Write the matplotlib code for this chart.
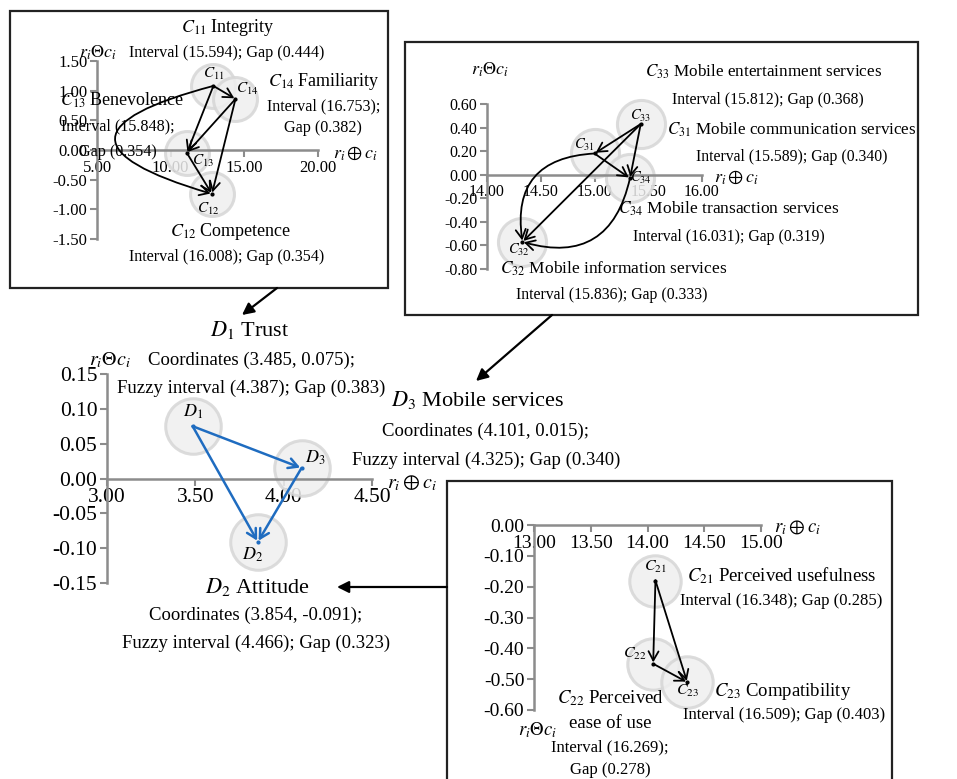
import matplotlib
matplotlib.use('Agg')
import matplotlib.pyplot as plt
from matplotlib.patches import FancyArrowPatch, Rectangle

plt.rcParams['font.family'] = ['Liberation Serif', 'DejaVu Serif']
plt.rcParams['mathtext.fontset'] = 'stix'
plt.rcParams['axes.unicode_minus'] = False

W, H = 957, 779

# ---- data ----
# D: dimensions (coordinates given in the figure)
d_names = ['D1', 'D2', 'D3']
d_x = [3.485, 3.854, 4.101]
d_y = [0.075, -0.091, 0.015]
d_edges = [('D1', 'D3', 0), ('D1', 'D2', 0), ('D3', 'D2', 0)]

# C1x: trust criteria
c1_names = ['C11', 'C12', 'C13', 'C14']
c1_x = [12.9, 12.8, 11.1, 14.4]
c1_y = [1.08, -0.74, -0.05, 0.86]
c1_edges = [('C11', 'C14', 0), ('C11', 'C13', 0), ('C11', 'C12', 1.8),
            ('C14', 'C13', 0), ('C14', 'C12', 0), ('C13', 'C12', 0)]

# C2x: attitude criteria
c2_names = ['C21', 'C22', 'C23']
c2_x = [14.07, 14.05, 14.35]
c2_y = [-0.18, -0.45, -0.51]
c2_edges = [('C21', 'C22', 0), ('C21', 'C23', 0), ('C22', 'C23', 0)]

# C3x: mobile services criteria
c3_names = ['C31', 'C32', 'C33', 'C34']
c3_x = [15.0, 14.33, 15.43, 15.33]
c3_y = [0.18, -0.57, 0.43, -0.03]
c3_edges = [('C33', 'C31', 0), ('C33', 'C32', 0), ('C33', 'C34', 0),
            ('C31', 'C34', 0), ('C31', 'C32', 0.55), ('C34', 'C32', -0.53)]

fig = plt.figure(figsize=(W / 100, H / 100), dpi=100)


def fpos(x, y):
    return x / W, 1 - y / H


def txt(x, y, s, size, **kw):
    fig.text(x / W, 1 - y / H, s, ha='center', va='center', fontsize=size, **kw)


def sub(name):
    return '$%s_{%s}$' % (name[0], name[1:])


def panel(box, names, xs, ys, edges, xlim, ylim, xticks, yticks,
          circ, lbl_off, lbl_size, tick_size, color='black', lw=1.3):
    x0, y0, x1, y1 = box
    ax = fig.add_axes([x0 / W, 1 - y1 / H, (x1 - x0) / W, (y1 - y0) / H])
    ax.patch.set_visible(False)
    ax.set_xlim(xlim)
    ax.set_ylim(ylim)
    ax.spines['top'].set_visible(False)
    ax.spines['right'].set_visible(False)
    ax.spines['bottom'].set_position(('data', 0))
    for s in ['left', 'bottom']:
        ax.spines[s].set_color('#8c8c8c')
        ax.spines[s].set_linewidth(1.8)
    ax.set_xticks(xticks)
    ax.set_yticks(yticks)
    ax.set_xticklabels(['%.2f' % v for v in xticks])
    ax.set_yticklabels(['%.2f' % v for v in yticks])
    ax.tick_params(direction='out', length=5, width=1.5, color='#8c8c8c',
                   labelsize=tick_size, pad=2)
    ax.scatter(xs, ys, s=circ, facecolor='#efefef', edgecolor='#d6d6d6',
               linewidth=2.2, alpha=0.85, zorder=2, clip_on=False)
    ax.scatter(xs, ys, s=4, color=color, zorder=4, clip_on=False)
    pts = dict(zip(names, zip(xs, ys)))
    for a, b, rad in edges:
        ar = FancyArrowPatch(pts[a], pts[b], connectionstyle='arc3,rad=%s' % rad,
                             arrowstyle='->,head_length=0.55,head_width=0.3',
                             mutation_scale=12, color=color, lw=lw,
                             shrinkA=0, shrinkB=1, zorder=3, clip_on=False)
        ax.add_patch(ar)
    for n, (dx, dy) in zip(names, lbl_off):
        ax.annotate(sub(n), pts[n], xytext=(dx * 0.72, dy * 0.72),
                    textcoords='offset points', ha='center', va='center',
                    fontsize=lbl_size, zorder=5)
    return ax


# ---- panel C1 (top left) ----
fig.patches.append(Rectangle(fpos(10, 288), 378 / W, 277 / H, fill=False,
                             lw=1.6, edgecolor='#222222', transform=fig.transFigure))
panel((97, 61, 318, 239), c1_names, c1_x, c1_y, c1_edges,
      (5, 20), (-1.5, 1.5), [5, 10, 15, 20], [-1.5, -1.0, -0.5, 0, 0.5, 1.0, 1.5],
      1000, [(0, 12), (-4, -15), (16, -8), (12, 10)], 11, 12)
txt(98, 53, r'$r_i\Theta c_i$', 13)
txt(355, 153, r'$r_i \oplus c_i$', 13)
txt(228, 28, sub('C11') + ' Integrity', 13)
txt(227, 53, 'Interval (15.594); Gap (0.444)', 11.6)
txt(324, 81, sub('C14') + ' Familiarity', 13)
txt(324, 106, 'Interval (16.753);', 11.6)
txt(323, 128, 'Gap (0.382)', 11.6)
txt(122, 100, sub('C13') + ' Benevolence', 13)
txt(118, 126, 'Interval (15.848);', 11.6)
txt(118, 152, 'Gap (0.354)', 11.6)
txt(231, 232, sub('C12') + ' Competence', 13)
txt(227, 257, 'Interval (16.008); Gap (0.354)', 11.6)

# ---- panel C3 (top right) ----
fig.patches.append(Rectangle(fpos(405, 315), 513 / W, 273 / H, fill=False,
                             lw=1.6, edgecolor='#222222', transform=fig.transFigure))
panel((487, 104, 702, 269), c3_names, c3_x, c3_y, c3_edges,
      (14, 16), (-0.8, 0.6), [14, 14.5, 15, 15.5, 16],
      [-0.8, -0.6, -0.4, -0.2, 0, 0.2, 0.4, 0.6],
      1200, [(-10, 9), (-4, -8), (0, 8), (11, 0)], 10.5, 11.5)
txt(490, 70, r'$r_i\Theta c_i$', 13)
txt(736, 177, r'$r_i \oplus c_i$', 13)
txt(764, 72, sub('C33') + ' Mobile entertainment services', 12.3)
txt(768, 100, 'Interval (15.812); Gap (0.368)', 11.3)
txt(792, 130, sub('C31') + ' Mobile communication services', 12.3)
txt(792, 157, 'Interval (15.589); Gap (0.340)', 11.3)
txt(729, 209, sub('C34') + ' Mobile transaction services', 12.5)
txt(729, 237, 'Interval (16.031); Gap (0.319)', 11.3)
txt(614, 269, sub('C32') + ' Mobile information services', 12.5)
txt(612, 295, 'Interval (15.836); Gap (0.333)', 11.3)

# ---- panel D (middle) ----
panel((107, 374, 372, 583), d_names, d_x, d_y, d_edges,
      (3, 4.5), (-0.15, 0.15), [3, 3.5, 4, 4.5],
      [-0.15, -0.10, -0.05, 0, 0.05, 0.10, 0.15],
      1600, [(0, 14), (-5, -13), (14, 10)], 13, 15.5, color='#1f6cc0', lw=1.8)
txt(110, 360, r'$r_i\Theta c_i$', 14.5)
txt(412, 483, r'$r_i \oplus c_i$', 14.5)
txt(250, 330, sub('D1') + ' Trust', 16)
txt(251, 360, 'Coordinates (3.485, 0.075);', 13.5)
txt(251, 388, 'Fuzzy interval (4.387); Gap (0.383)', 13.5)
txt(478, 400, sub('D3') + ' Mobile services', 16)
txt(486, 431, 'Coordinates (4.101, 0.015);', 13.5)
txt(486, 460, 'Fuzzy interval (4.325); Gap (0.340)', 13.5)
txt(257, 587, sub('D2') + ' Attitude', 16)
txt(256, 615, 'Coordinates (3.854, -0.091);', 13.5)
txt(256, 643, 'Fuzzy interval (4.466); Gap (0.323)', 13.5)

# ---- panel C2 (bottom right) ----
fig.patches.append(Rectangle(fpos(447, 800), 445 / W, 319 / H, fill=False,
                             lw=1.6, edgecolor='#222222', transform=fig.transFigure))
panel((534, 525, 761, 710), c2_names, c2_x, c2_y, c2_edges,
      (13, 15), (-0.6, 0), [13, 13.5, 14, 14.5, 15],
      [-0.6, -0.5, -0.4, -0.3, -0.2, -0.1, 0],
      1370, [(0, 14), (-18, 10), (0, -9)], 11.5, 14)
txt(797, 528, r'$r_i \oplus c_i$', 13.5)
txt(538, 730, r'$r_i\Theta c_i$', 13.5)
txt(782, 576, sub('C21') + ' Perceived usefulness', 13.5)
txt(781, 601, 'Interval (16.348); Gap (0.285)', 12)
txt(783, 692, sub('C23') + ' Compatibility', 13.5)
txt(784, 715, 'Interval (16.509); Gap (0.403)', 12)
txt(610, 698, sub('C22') + ' Perceived', 13.5)
txt(610, 723, 'ease of use', 13.5)
txt(610, 747, 'Interval (16.269);', 12)
txt(610, 770, 'Gap (0.278)', 12)

# ---- connectors between panels ----
for a, b in [((277, 288), (242, 315)), ((552, 315), (476, 381)),
             ((447, 587), (337, 587))]:
    fig.patches.append(FancyArrowPatch(fpos(*a), fpos(*b), transform=fig.transFigure,
                                       arrowstyle='-|>,head_length=0.5,head_width=0.25',
                                       mutation_scale=14, color='black', lw=1.6,
                                       shrinkA=0, shrinkB=0))

fig.savefig('out.png', dpi=100)
